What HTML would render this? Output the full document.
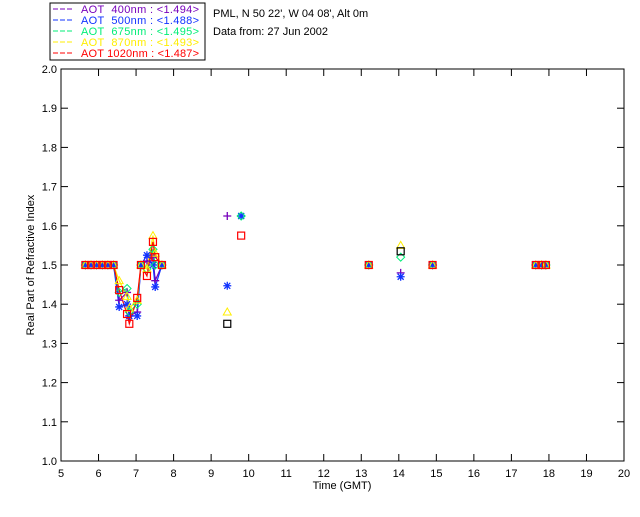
<!DOCTYPE html>
<html><head><meta charset="utf-8"><style>
body{margin:0;background:#fff;width:640px;height:512px;overflow:hidden}
svg{font-family:"Liberation Sans",sans-serif;font-size:11px}
</style></head><body>
<svg id="c" width="640" height="512">
<rect x="50" y="3" width="155" height="57" fill="#fff" stroke="#000"/>
<g id="legend"></g>
<text x="213" y="17">PML, N 50 22', W 04 08', Alt 0m</text>
<text x="213" y="35">Data from: 27 Jun 2002</text>
<g id="axes"></g>
<g id="lines"></g>
<g id="marks"></g>
<text x="342" y="489" text-anchor="middle">Time (GMT)</text>
<text transform="translate(34,265) rotate(-90)" text-anchor="middle">Real Part of Refractive Index</text>
</svg>
<script>
const times=[5.65,5.8,5.95,6.1,6.25,6.4,6.55,6.76,6.82,7.03,7.13,7.29,7.45,7.51,7.69,9.43,9.8,13.2,14.05,14.9,17.65,17.8,17.92];
const purple=[1.5,1.5,1.5,1.5,1.5,1.5,1.41,1.43,1.37,1.38,1.5,1.51,1.52,1.46,1.5,1.625,null,1.5,1.48,1.5,1.5,1.5,1.5];
const blue=[1.5,1.5,1.5,1.5,1.5,1.5,1.393,1.40,1.37,1.37,1.5,1.525,1.5,1.444,1.5,1.447,1.625,1.5,1.47,1.5,1.5,1.5,1.5];
const green=[1.5,1.5,1.5,1.5,1.5,1.5,1.43,1.44,1.38,1.40,1.5,1.49,1.54,1.50,1.5,null,1.625,1.5,1.52,1.5,1.5,1.5,1.5];
const yellow=[1.5,1.5,1.5,1.5,1.5,1.5,1.46,1.42,1.39,1.41,1.5,1.49,1.575,1.53,1.5,1.38,null,1.5,1.55,1.5,1.5,1.5,1.5];
const red=[1.5,1.5,1.5,1.5,1.5,1.5,1.436,1.375,1.35,1.416,1.5,1.472,1.559,1.52,1.5,null,1.575,1.5,null,1.5,1.5,1.5,1.5];
const black=[null,null,null,null,null,null,null,null,null,null,null,null,null,null,null,1.35,null,null,1.535,null,null,null,null];
const xTicks=[5,6,7,8,9,10,11,12,13,14,15,16,17,18,19,20];
const yTicks=[1.0,1.1,1.2,1.3,1.4,1.5,1.6,1.7,1.8,1.9,2.0];
const legendLabels=["AOT  400nm : <1.494>","AOT  500nm : <1.488>","AOT  675nm : <1.495>","AOT  870nm : <1.493>","AOT 1020nm : <1.487>"];
const NS="http://www.w3.org/2000/svg";
const X0=61,X1=624,Y0=461,Y1=69;
const sx=t=>X0+(t-5)/15*(X1-X0);
const sy=v=>Y0-(v-1)*(Y0-Y1);
function mk(tag,at,parent){const e=document.createElementNS(NS,tag);for(const k in at)e.setAttribute(k,at[k]);parent.appendChild(e);return e;}
const axes=document.getElementById('axes'),lines=document.getElementById('lines'),marks=document.getElementById('marks'),leg=document.getElementById('legend');
const frame=mk('rect',{x:X0,y:Y1,width:X1-X0,height:Y0-Y1,fill:'none',stroke:'#000'},axes);


xTicks.forEach(t=>{const x=sx(t);
 mk('line',{x1:x,x2:x,y1:Y0,y2:Y0-7,stroke:'#000'},axes);
 mk('line',{x1:x,x2:x,y1:Y1,y2:Y1+7,stroke:'#000'},axes);
 const tx=mk('text',{x:x,y:Y0+16,'text-anchor':'middle'},axes);tx.textContent=t;
 
 });
yTicks.forEach(v=>{const y=sy(v);
 mk('line',{x1:X0,x2:X0+7,y1:y,y2:y,stroke:'#000'},axes);
 mk('line',{x1:X1,x2:X1-7,y1:y,y2:y,stroke:'#000'},axes);
 const tx=mk('text',{x:X0-4,y:y+4,'text-anchor':'end'},axes);tx.textContent=v.toFixed(1);
 
 });
const series=[{v:purple,c:'#7700bb',m:'plus'},{v:blue,c:'#1133ff',m:'star'},{v:green,c:'#00ee77',m:'diamond'},{v:yellow,c:'#ffee00',m:'tri'},{v:red,c:'#ff0000',m:'square'},{v:black,c:'#000',m:'square'}];
const names=['purple-400nm','blue-500nm','green-675nm','yellow-870nm','red-1020nm','black-extra'];
series.forEach((s,i)=>{
 let d='',prev=null;
 s.v.forEach((v,j)=>{if(v==null){prev=null;return;}
  const x=sx(times[j]),y=sy(v);
  if(prev!=null&&times[j]-times[prev]<0.3)d+=`L${x},${y}`;else d+=`M${x},${y}`;prev=j;});
 const p=mk('path',{d:d,fill:'none',stroke:s.c,'stroke-width':1.2},lines);
 
 
 s.v.forEach((v,j)=>{if(v==null)return;const x=sx(times[j]),y=sy(v);let e;
  if(s.m==='plus')e=mk('path',{d:`M${x-4},${y}h8M${x},${y-4}v8`,stroke:s.c,'stroke-width':1.3},marks);
  else if(s.m==='star')e=mk('path',{d:`M${x-4},${y}h8M${x},${y-4}v8M${x-3},${y-3}l6,6M${x-3},${y+3}l6,-6`,stroke:s.c,'stroke-width':1.3},marks);
  else if(s.m==='diamond')e=mk('path',{d:`M${x},${y-4}l4,4l-4,4l-4,-4z`,fill:'none',stroke:s.c},marks);
  else if(s.m==='tri')e=mk('path',{d:`M${x},${y-4}l4,7h-8z`,fill:'none',stroke:s.c},marks);
  else e=mk('rect',{x:x-3.5,y:y-3.5,width:7,height:7,fill:'none',stroke:s.c,'stroke-width':1.2},marks);
  
  });
});
legendLabels.forEach((l,i)=>{const y=13+i*11,c=series[i].c;
 mk('line',{x1:53,x2:74,y1:y-4,y2:y-4,stroke:c,'stroke-dasharray':'5,2'},leg);
 const t=mk('text',{x:81,y:y,fill:c,textLength:118,lengthAdjust:'spacing'},leg);t.textContent=l.replace(/  /g,'\u00a0\u00a0');
 
 });
</script>
</body></html>
